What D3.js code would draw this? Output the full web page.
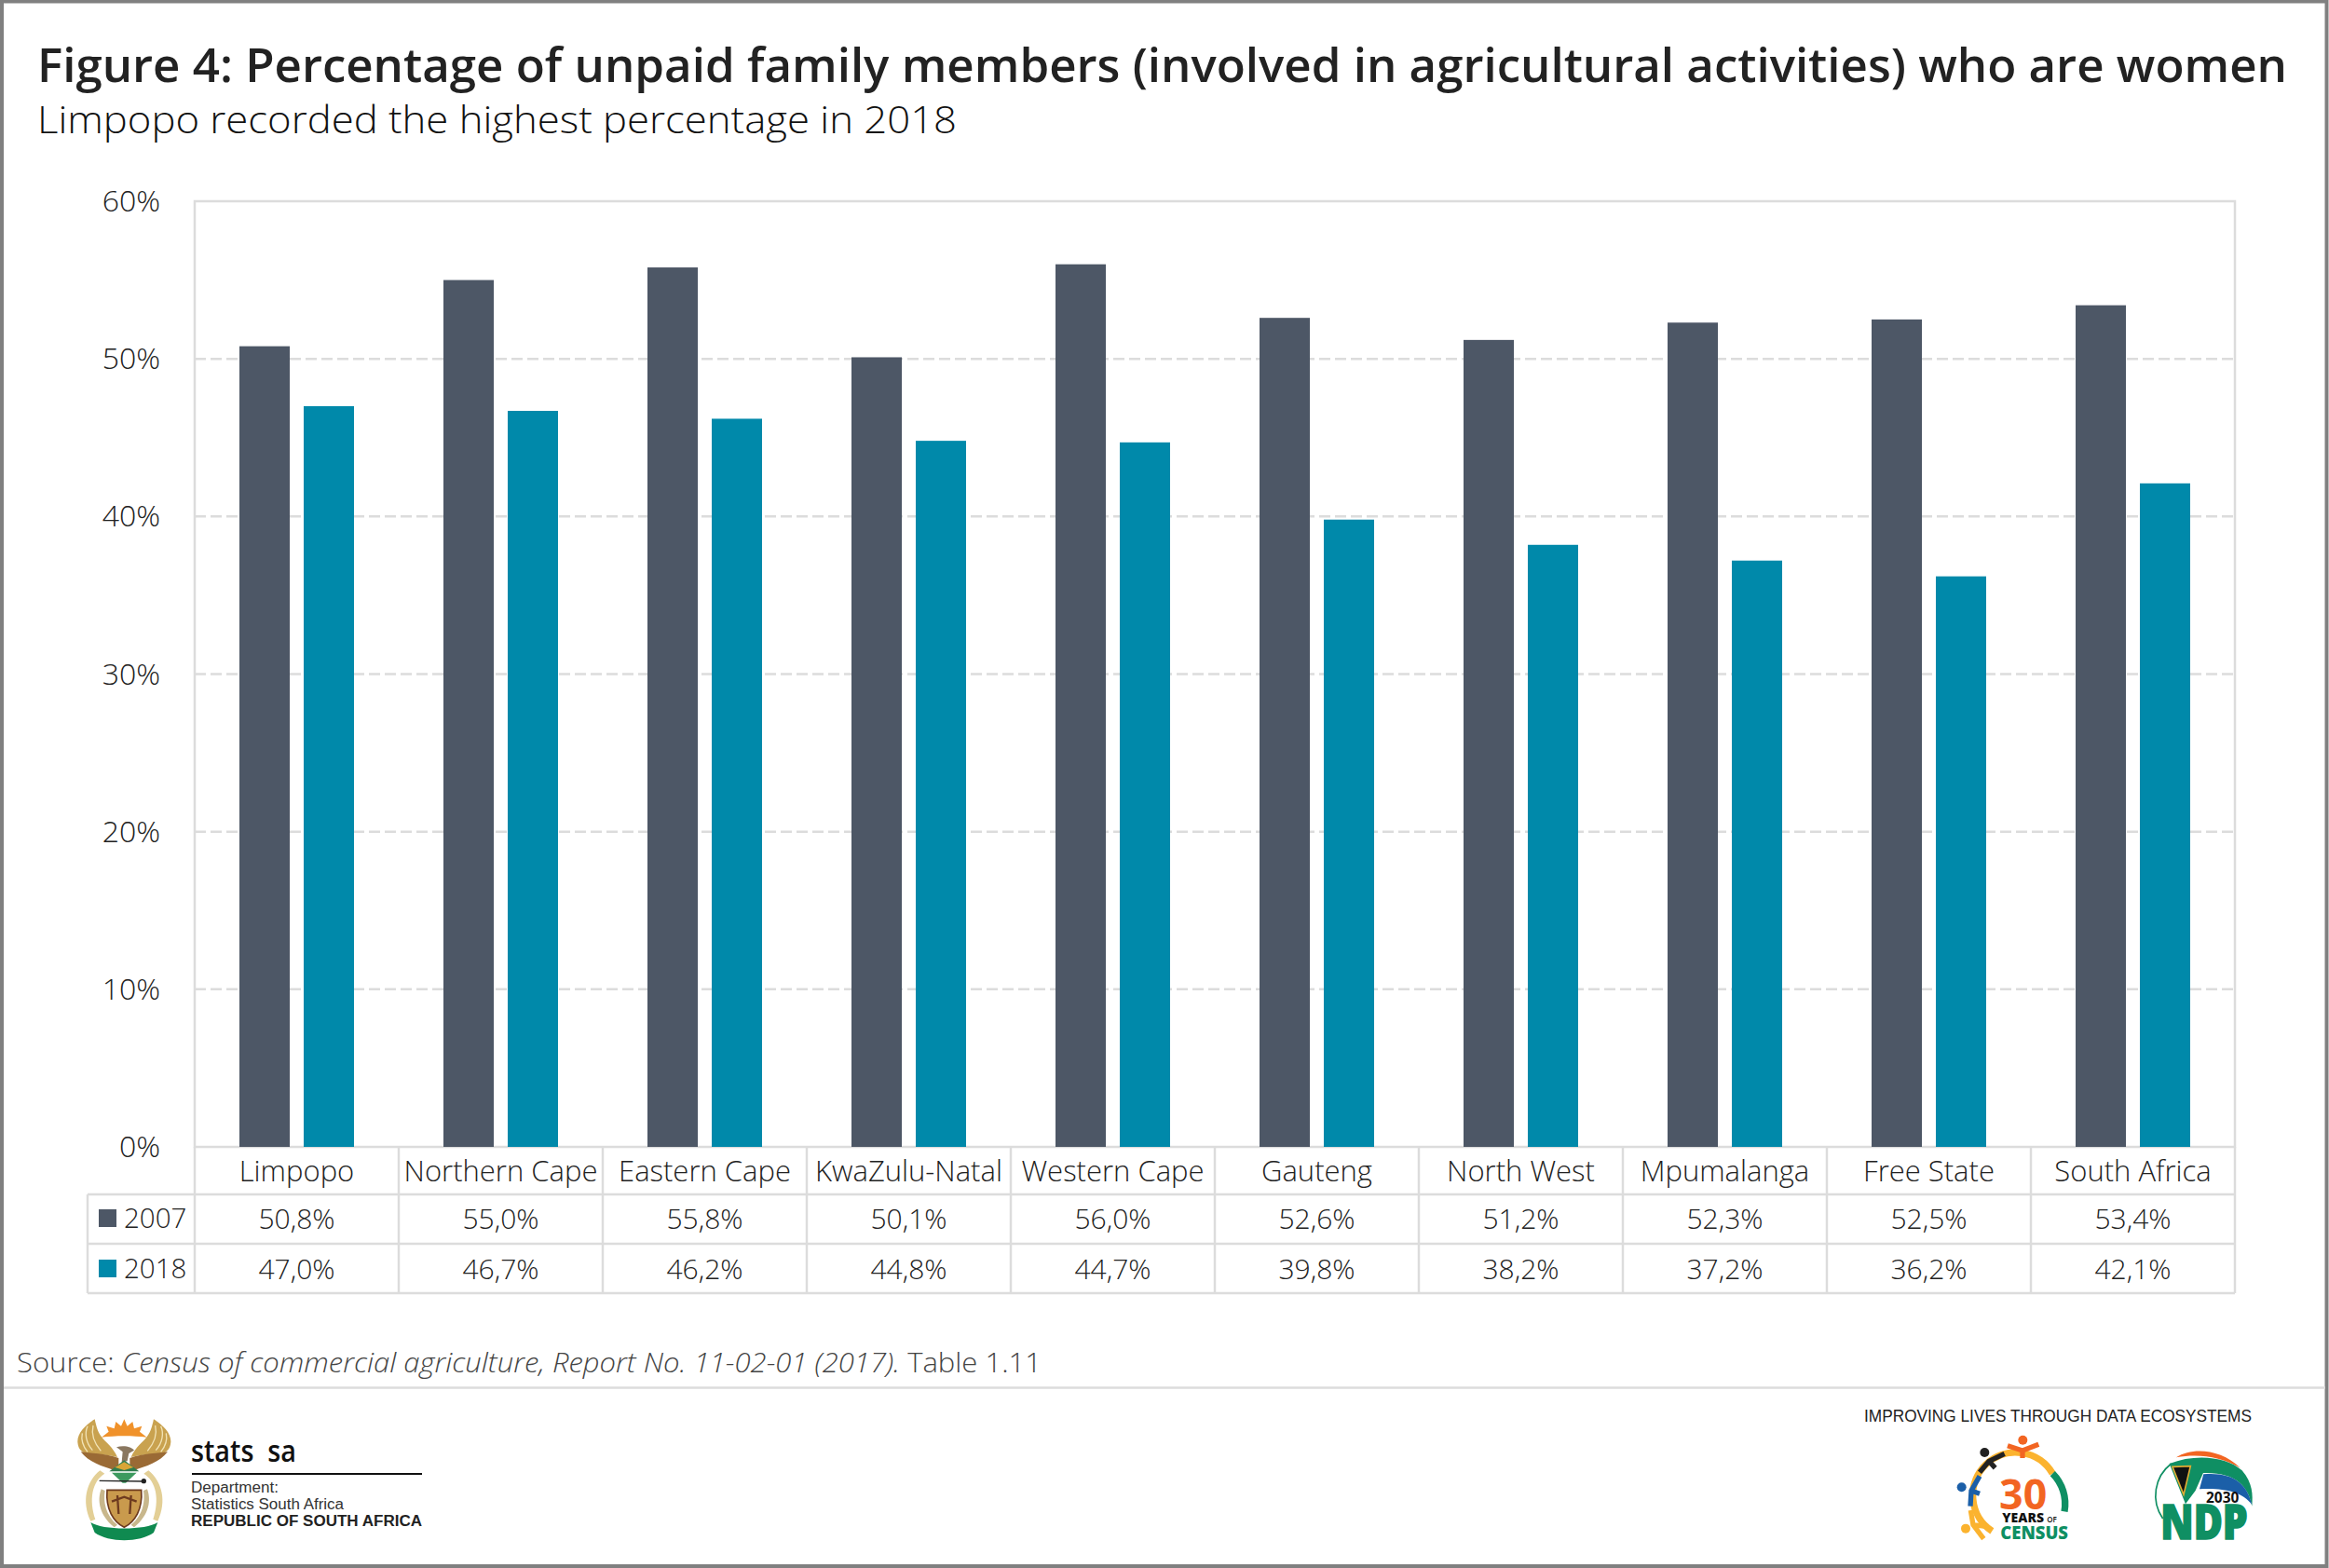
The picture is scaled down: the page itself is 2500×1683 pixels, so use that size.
<!DOCTYPE html>
<html>
<head>
<meta charset="utf-8">
<script src="https://cdn.jsdelivr.net/npm/d3@7"></script>
<style>
  html, body { margin: 0; padding: 0; background: #fff; }
  svg { display: block; }
  text { font-family: "Open Sans", sans-serif; }
</style>
</head>
<body>
<script>
var titleText = 'Figure 4: Percentage of unpaid family members (involved in agricultural activities) who are women';
var subtitleText = 'Limpopo recorded the highest percentage in 2018';

var provinces = ['Limpopo', 'Northern Cape', 'Eastern Cape', 'KwaZulu-Natal', 'Western Cape',
  'Gauteng', 'North West', 'Mpumalanga', 'Free State', 'South Africa'];
var years = ['2007', '2018'];
var values2007 = [50.8, 55.0, 55.8, 50.1, 56.0, 52.6, 51.2, 52.3, 52.5, 53.4];
var values2018 = [47.0, 46.7, 46.2, 44.8, 44.7, 39.8, 38.2, 37.2, 36.2, 42.1];
var yTicks = [0, 10, 20, 30, 40, 50, 60];

var dark = '#4d5766', teal = '#0089aa', line = '#dcdcdc', ink = '#222';
var seriesColor = d3.scaleOrdinal().domain(years).range([dark, teal]);
var seriesValues = { '2007': values2007, '2018': values2018 };

var svg = d3.select('body').append('svg').attr('width', 2500).attr('height', 1683);

// outer frame
svg.append('rect').attr('x', 2).attr('y', 1.5).attr('width', 2495.5).attr('height', 1679.5)
  .attr('fill', '#fff').attr('stroke', '#808080').attr('stroke-width', 4);

// headings
svg.append('text').attr('x', 40).attr('y', 88).attr('font-size', 51).attr('font-weight', 600)
  .attr('fill', '#222').attr('textLength', 2415).attr('lengthAdjust', 'spacingAndGlyphs').text(titleText);
svg.append('text').attr('x', 40).attr('y', 143).attr('font-size', 40).attr('font-weight', 300)
  .attr('fill', '#111').attr('textLength', 987).attr('lengthAdjust', 'spacingAndGlyphs').text(subtitleText);

// scales
var plotTop = 216, plotBottom = 1231, plotLeft = 209, plotRight = 2399;
var x = d3.scaleBand().domain(provinces).range([plotLeft, plotRight]);
var xInner = d3.scaleBand().domain(years).range([48, 171]).paddingInner(0.217);
var y = d3.scaleLinear().domain([0, 60]).range([plotBottom, plotTop]);

// gridlines
svg.append('g').selectAll('line').data(yTicks.slice(1, -1)).enter().append('line')
  .attr('x1', plotLeft).attr('x2', plotRight)
  .attr('y1', function (d) { return y(d); }).attr('y2', function (d) { return y(d); })
  .attr('stroke', line).attr('stroke-width', 2.5).attr('stroke-dasharray', '12,5');

svg.append('rect').attr('x', plotLeft).attr('y', plotTop)
  .attr('width', plotRight - plotLeft).attr('height', plotBottom - plotTop)
  .attr('fill', 'none').attr('stroke', line).attr('stroke-width', 2.5);

// bars
var groups = svg.append('g').selectAll('g').data(years).enter().append('g')
  .attr('fill', function (d) { return seriesColor(d); });
groups.selectAll('rect')
  .data(function (yr) {
    return seriesValues[yr].map(function (v, i) { return { year: yr, province: provinces[i], value: v }; });
  })
  .enter().append('rect')
  .attr('x', function (d) { return x(d.province) + xInner(d.year); })
  .attr('y', function (d) { return y(d.value); })
  .attr('width', xInner.bandwidth())
  .attr('height', function (d) { return y(0) - y(d.value); });

// y axis
var yAxis = d3.axisLeft(y).tickValues(yTicks).tickSize(0).tickPadding(37)
  .tickFormat(function (d) { return d + '%'; });
var yG = svg.append('g').attr('transform', 'translate(' + plotLeft + ',0)').call(yAxis);
yG.select('.domain').remove();
yG.selectAll('text').attr('font-size', 32).attr('font-weight', 300).attr('fill', ink)
  .attr('font-family', '"Open Sans", sans-serif').attr('dy', 10.5);

// data table under the plot
var rowLines = [1282, 1335, 1388];
var tableLeft = 94;
var table = svg.append('g').attr('stroke', line).attr('stroke-width', 2.5);
table.selectAll('.h').data(rowLines).enter().append('line').attr('class', 'h')
  .attr('x1', tableLeft).attr('x2', plotRight)
  .attr('y1', function (d) { return d; }).attr('y2', function (d) { return d; });
table.selectAll('.v').data(provinces.slice(1).map(function (p) { return x(p); }).concat([plotLeft, plotRight]))
  .enter().append('line').attr('class', 'v')
  .attr('x1', function (d) { return d; }).attr('x2', function (d) { return d; })
  .attr('y1', plotBottom).attr('y2', rowLines[2]);
table.append('line').attr('x1', tableLeft).attr('x2', tableLeft).attr('y1', rowLines[0]).attr('y2', rowLines[2]);

function pct(v) { return v.toFixed(1).replace('.', ',') + '%'; }

svg.append('g').selectAll('text').data(provinces).enter().append('text')
  .attr('x', function (d) { return x(d) + x.bandwidth() / 2; }).attr('y', 1268)
  .attr('text-anchor', 'middle').attr('font-size', 31).attr('font-weight', 300).attr('fill', ink)
  .text(function (d) { return d; });

var rowBase = { '2007': 1319, '2018': 1373 };
years.forEach(function (yr) {
  svg.append('g').selectAll('text').data(seriesValues[yr]).enter().append('text')
    .attr('x', function (d, i) { return x(provinces[i]) + x.bandwidth() / 2; }).attr('y', rowBase[yr])
    .attr('text-anchor', 'middle').attr('font-size', 30).attr('font-weight', 300).attr('fill', ink)
    .text(pct);
  svg.append('rect').attr('x', 106).attr('y', rowBase[yr] - 21).attr('width', 19).attr('height', 19)
    .attr('fill', seriesColor(yr));
  svg.append('text').attr('x', 133).attr('y', rowBase[yr] - 1).attr('font-size', 29.5).attr('font-weight', 300)
    .attr('fill', ink).text(yr);
});

// source
var src = svg.append('text').attr('x', 18).attr('y', 1473).attr('font-size', 29).attr('font-weight', 300)
  .attr('fill', '#444').attr('textLength', 1100).attr('lengthAdjust', 'spacingAndGlyphs');
src.append('tspan').text('Source: ');
src.append('tspan').attr('font-style', 'italic').text('Census of commercial agriculture, Report No. 11-02-01 (2017).');
src.append('tspan').text(' Table 1.11');

svg.append('line').attr('x1', 4).attr('x2', 2496).attr('y1', 1489.5).attr('y2', 1489.5)
  .attr('stroke', line).attr('stroke-width', 2.5);

// footer left: stats sa block
var arial = '"Liberation Sans", sans-serif';
svg.append('text').attr('x', 205).attr('y', 1569).attr('font-size', 32).attr('font-weight', 600)
  .attr('fill', '#111').attr('textLength', 113).attr('lengthAdjust', 'spacingAndGlyphs').text('stats\u00a0\u00a0sa');
svg.append('line').attr('x1', 206).attr('x2', 453).attr('y1', 1582).attr('y2', 1582)
  .attr('stroke', '#111').attr('stroke-width', 2);
svg.append('text').attr('x', 205).attr('y', 1602).attr('font-size', 16).attr('fill', '#333')
  .attr('textLength', 94).attr('lengthAdjust', 'spacingAndGlyphs')
  .style('font-family', arial).text('Department:');
svg.append('text').attr('x', 205).attr('y', 1620).attr('font-size', 16).attr('fill', '#333')
  .attr('textLength', 164).attr('lengthAdjust', 'spacingAndGlyphs')
  .style('font-family', arial).text('Statistics South Africa');
svg.append('text').attr('x', 205).attr('y', 1638).attr('font-size', 16).attr('font-weight', 700).attr('fill', '#222')
  .attr('textLength', 248).attr('lengthAdjust', 'spacingAndGlyphs')
  .style('font-family', arial).text('REPUBLIC OF SOUTH AFRICA');

// footer right tagline
svg.append('text').attr('x', 2001).attr('y', 1526).attr('font-size', 18).attr('fill', '#222')
  .attr('textLength', 416).attr('lengthAdjust', 'spacingAndGlyphs')
  .style('font-family', arial).text('IMPROVING LIVES THROUGH DATA ECOSYSTEMS');

// coat of arms (rough drawing, units are 1/3 px)
var arms = svg.append('g').attr('transform', 'translate(70,1510) scale(0.3333)');
function halfArms(g) {
  g.append('path').attr('d', 'M95,40 C66,58 38,85 40,114 C42,138 55,148 75,152 C110,152 140,155 168,162 C155,130 128,112 116,95 C104,80 100,60 95,40Z').attr('fill', '#c9a24f');
  g.append('path').attr('d', 'M72,62 C62,85 66,115 88,140 M90,60 C84,85 92,115 115,142 M55,85 C50,110 58,128 72,145')
    .attr('fill', 'none').attr('stroke', '#f2e3b5').attr('stroke-width', 4);
  g.append('path').attr('d', 'M50,145 C80,150 130,150 172,165 L172,190 L160,205 C120,192 75,178 50,145Z').attr('fill', '#9a6a35');
  g.append('path').attr('d', 'M112,205 C68,240 52,305 82,368 L97,362 C76,300 86,240 127,215Z').attr('fill', '#e3cf96');
  g.append('path').attr('d', 'M116,265 C103,300 108,348 158,388 L168,380 C130,350 122,305 128,270Z').attr('fill', '#c8b78c');
}
halfArms(arms.append('g'));
halfArms(arms.append('g').attr('transform', 'translate(380,0) scale(-1,1)'));
arms.append('path').attr('d', 'M117,98 L140,80 L133,62 L158,70 L163,48 L180,62 L190,40 L200,62 L217,48 L222,70 L247,62 L240,80 L263,98 C220,92 160,92 117,98Z').attr('fill', '#f0922b');
arms.append('path').attr('d', 'M165,130 C190,122 215,130 222,140 L205,150 L200,175 L182,178 L185,145 Z').attr('fill', '#8a7760');
arms.append('path').attr('d', 'M190,172 L238,208 L142,208Z').attr('fill', '#2f7d4f');
arms.append('path').attr('d', 'M160,195 L190,178 L220,195 L190,204Z').attr('fill', '#d8a537');
arms.append('path').attr('d', 'M150,212 L230,212 L195,245 L185,245Z').attr('fill', '#3c9a5f');
arms.append('line').attr('x1', 110).attr('y1', 238).attr('x2', 255).attr('y2', 240).attr('stroke', '#222').attr('stroke-width', 4);
arms.append('circle').attr('cx', 253).attr('cy', 239).attr('r', 8).attr('fill', '#222');
arms.append('path').attr('d', 'M135,268 L245,268 C250,330 225,370 190,388 C155,370 130,330 135,268Z').attr('fill', '#c99a4d').attr('stroke', '#6e3b1f').attr('stroke-width', 5);
arms.append('path').attr('d', 'M168,285 L172,345 M212,285 L208,345 M150,305 L190,290 L230,305').attr('stroke', '#6e3b1f').attr('stroke-width', 7).attr('fill', 'none');
arms.append('path').attr('d', 'M82,372 C120,398 260,398 298,372 L285,405 C240,438 140,438 95,405Z').attr('fill', '#0f8a50');

// 30 years of census and NDP logos (rough drawing, units are 1/3 px)
var logos = svg.append('g').attr('transform', 'translate(2090,1535) scale(0.3333)');
var green = '#0f8f63', orange = '#f26522', yellow = '#fbb32f', blue = '#1b5fa8';
logos.append('path').attr('d', 'M145,325 A138,138 0 1 1 340,140').attr('fill', 'none').attr('stroke', yellow).attr('stroke-width', 22);
logos.append('path').attr('d', 'M340,140 A138,138 0 0 1 378,262').attr('fill', 'none').attr('stroke', green).attr('stroke-width', 22);
function person(color, hx, hy, d) {
  logos.append('circle').attr('cx', hx).attr('cy', hy).attr('r', 15).attr('fill', color);
  logos.append('path').attr('d', d).attr('fill', 'none').attr('stroke', color).attr('stroke-width', 16);
}
person(orange, 244, 32, 'M195,50 L243,66 L295,46 M243,66 L243,90');
person('#222', 121, 72, 'M185,76 L135,100 L105,136 M135,100 L155,122');
person(blue, 47, 184, 'M105,148 L78,195 L75,245 M78,195 L105,205');
person(yellow, 60, 317, 'M76,258 L84,305 L118,350 M84,305 L125,310');
logos.append('text').attr('x', 245).attr('y', 255).attr('text-anchor', 'middle').attr('font-size', 134).attr('font-weight', 700).attr('fill', orange).text('30');
logos.append('text').attr('x', 178).attr('y', 297).attr('font-size', 42).attr('font-weight', 800).attr('fill', '#111').text('YEARS');
logos.append('text').attr('x', 322).attr('y', 297).attr('font-size', 24).attr('font-weight', 600).attr('fill', '#111').text('OF');
logos.append('text').attr('x', 172).attr('y', 350).attr('font-size', 56).attr('font-weight', 800).attr('fill', green)
  .attr('textLength', 218).attr('lengthAdjust', 'spacingAndGlyphs').text('CENSUS');

logos.append('path').attr('d', 'M695,285 A130,130 0 0 1 722,108').attr('fill', 'none').attr('stroke', green).attr('stroke-width', 5);
logos.append('path').attr('d', 'M738,88 C790,55 880,60 945,122 C880,85 810,75 738,88Z').attr('fill', orange);
logos.append('path').attr('d', 'M716,108 C800,75 900,85 950,130 C985,170 985,210 982,245 C970,180 930,135 825,138 L800,195 L768,238Z').attr('fill', green);
logos.append('path').attr('d', 'M726,118 L784,116 L762,208Z').attr('fill', '#111').attr('stroke', '#e0ac35').attr('stroke-width', 5);
logos.append('path').attr('d', 'M826,142 C920,135 965,170 982,240 C950,195 880,185 813,190Z').attr('fill', blue);
logos.append('text').attr('x', 834).attr('y', 235).attr('font-size', 50).attr('font-weight', 700).attr('fill', '#111')
  .attr('textLength', 106).attr('lengthAdjust', 'spacingAndGlyphs').text('2030');
logos.append('text').attr('x', 688).attr('y', 351).attr('font-size', 152).attr('font-weight', 800).attr('fill', green)
  .attr('stroke', green).attr('stroke-width', 5)
  .attr('textLength', 280).attr('lengthAdjust', 'spacingAndGlyphs').text('NDP');
</script>
</body>
</html>
